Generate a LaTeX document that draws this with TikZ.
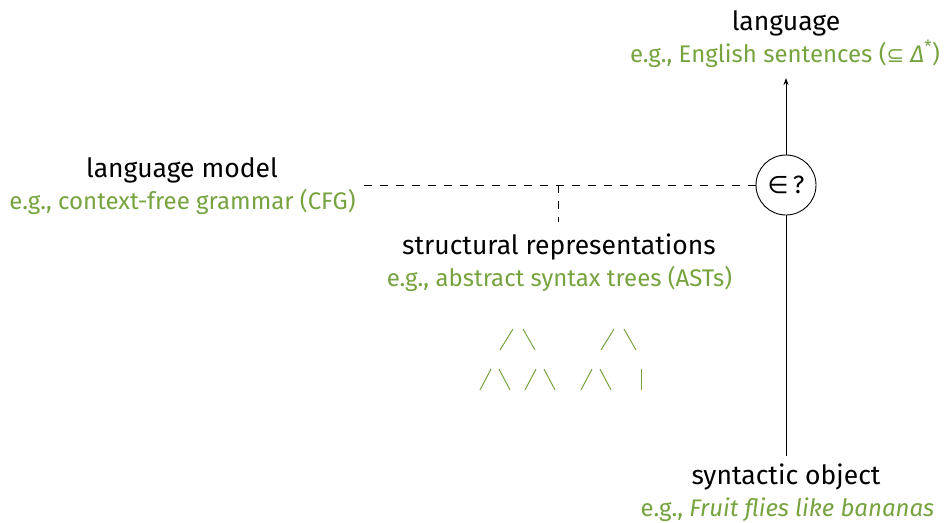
\documentclass[tikz,border=0pt]{standalone}
\usepackage{fontspec}
\setmainfont{Fira Sans}
\newfontfamily\dvsymb{DejaVu Sans}
\usetikzlibrary{arrows.meta}
\definecolor{egreen}{HTML}{77A33F}
\tikzset{
  x=1pt,y=-1pt,
  title/.style={font=\fontsize{26.5}{30}\selectfont, text=black, inner sep=0pt, anchor=base},
  example/.style={font=\fontsize{24}{28}\selectfont, text=egreen, inner sep=0pt, anchor=base},
  link/.style={line width=0.9pt, dash pattern=on 8pt off 8pt},
  conn/.style={line width=0.9pt},
  treeedge/.style={line width=1pt, egreen},
}
\begin{document}
\begin{tikzpicture}
\useasboundingbox (0,0) rectangle (944,522);
% language
\node[title] (lang) at (786,30) {language};
\node[example] (langex) at (785,62) {e.g., English sentences ({\dvsymb\fontsize{21}{24}\selectfont ⊆} \textit{Δ}\textsuperscript{*})};
% membership circle
\node[draw, circle, line width=0.9pt, minimum size=60pt, inner sep=0pt, font=\fontsize{25}{28}\selectfont] (mem) at (786,185) {{\dvsymb\fontsize{24}{28}\selectfont ∈}\,?};
\coordinate (arrtop) at (786,78);
\coordinate (objtop) at (786,456);
\draw[conn, -{Stealth[length=7pt,width=5pt]}] (mem.north) -- (arrtop);
\draw[conn] (objtop) -- (mem.south);
% language model
\node[title] (lm) at (182,177) {language model};
\node[example] (lmex) at (182.5,209) {e.g., context-free grammar (CFG)};
\coordinate (dstart) at (364,185);
\coordinate (djoin) at (558,185);
\coordinate (dend) at (558,222);
\draw[link] (dstart) -- (mem.west);
\draw[link] (djoin) -- (dend);
% structural representations
\node[title] (sr) at (559,254) {structural representations};
\node[example] (srex) at (559.5,286) {e.g., abstract syntax trees (ASTs)};
% syntactic object
\node[title] (so) at (786,484) {syntactic object};
\node[example] (soex) at (787.5,516) {e.g., \textit{Fruit flies like bananas}};
% tree fragments
\foreach \x in {500,601} {
  \draw[treeedge] (\x,350) -- (\x+13,329);
}
\foreach \x in {523,624} {
  \draw[treeedge] (\x,329) -- (\x+12,350);
}
\foreach \x in {480,525,581} {
  \draw[treeedge] (\x,390) -- (\x+11,369);
}
\foreach \x in {499,544,600} {
  \draw[treeedge] (\x,369) -- (\x+11,390);
}
\draw[treeedge] (641,369) -- (641,390);
\end{tikzpicture}
\end{document}
